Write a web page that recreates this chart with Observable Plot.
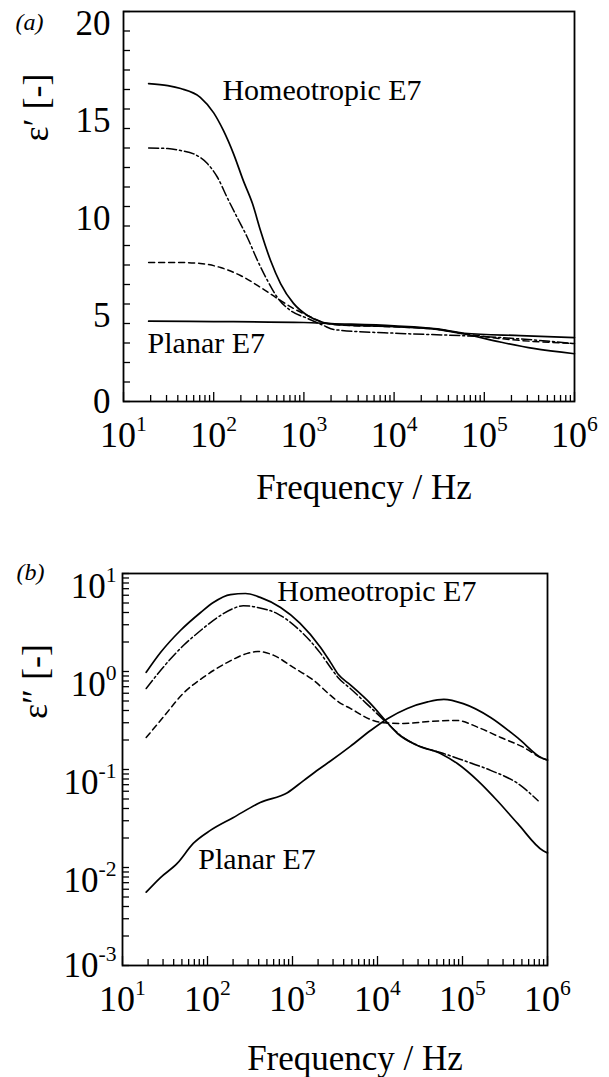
<!DOCTYPE html>
<html><head><meta charset="utf-8">
<script src="https://cdn.jsdelivr.net/npm/d3@7"></script>
<script src="https://cdn.jsdelivr.net/npm/@observablehq/plot@0.6"></script>
<style>
html,body{margin:0;padding:0;background:#fff;}
#chart{width:609px;}
#chart svg{display:block;}
</style></head><body><div id="chart"></div>
<script>
// ---------- data: (frequency Hz, value) ----------
// Panel (a): real permittivity eps'
const aHomeotropic = [[19,16.3],[31,16.2],[43,16.05],[71,15.6],[100,14.8],[128,13.9],[166,12.7],[214,11.3],[269,10.15],[330,8.77],[427,7.23],[551,6.05],[767,5.03],[1096,4.41],[1648,4.05],[2547,3.93],[10000,3.84],[30000,3.7],[60000,3.46],[150000,3.05],[350000,2.72],[1000000,2.45]];
const aDashDot = [[19,13.0],[31,12.97],[43,12.87],[60,12.7],[85,12.2],[110,11.5],[141,10.46],[182,9.44],[237,8.4],[306,7.23],[395,6.2],[509,5.33],[708,4.67],[1096,4.26],[1648,3.9],[2140,3.69],[11700,3.49],[55000,3.38],[150000,3.28],[1000000,2.97]];
const aDashed = [[19,7.13],[43,7.13],[71,7.08],[119,6.87],[198,6.46],[331,5.85],[509,5.28],[767,4.77],[1096,4.41],[1648,4.05],[2547,3.92],[10000,3.83],[30000,3.7],[60000,3.48],[150000,3.23],[1000000,2.97]];
const aPlanar = [[19,4.12],[100,4.1],[1000,4.05],[2000,4.0],[10000,3.88],[30000,3.72],[60000,3.5],[250000,3.38],[1000000,3.28]];

// Panel (b): dielectric loss eps''
const bHomeotropic = [[19,0.98],[28,1.56],[48,2.62],[83,4.0],[117,5.06],[186,6.1],[280,6.25],[417,5.7],[724,4.5],[1230,3.1],[2140,1.76],[2800,1.24],[3470,0.93],[4790,0.73],[8280,0.47],[12400,0.316],[17200,0.233],[29500,0.176],[55000,0.146],[87000,0.115],[151000,0.077],[257000,0.048],[447000,0.028],[890000,0.0148],[1000000,0.0141]];
const bDashDot = [[19,0.67],[30,1.1],[52,1.84],[83,2.62],[131,3.56],[202,4.4],[263,4.7],[389,4.5],[661,3.9],[1150,2.75],[2140,1.53],[2800,1.1],[3470,0.86],[4790,0.67],[8280,0.43],[13100,0.295],[20400,0.21],[34700,0.167],[55000,0.149],[102000,0.124],[214000,0.098],[447000,0.072],[776000,0.048]];
const bDashed = [[19,0.212],[30,0.34],[52,0.6],[89,0.87],[172,1.24],[295,1.53],[389,1.6],[603,1.46],[1020,1.1],[1780,0.81],[2800,0.57],[3470,0.49],[4790,0.42],[8900,0.316],[11700,0.3],[20400,0.295],[41700,0.31],[87000,0.316],[151000,0.27],[282000,0.212],[525000,0.168],[890000,0.129],[1000000,0.125]];
const bPlanar = [[19,0.0056],[28,0.0079],[44,0.011],[68,0.0176],[108,0.0239],[202,0.0324],[417,0.046],[871,0.058],[1350,0.077],[2020,0.1],[2800,0.122],[4790,0.172],[8280,0.25],[13100,0.33],[22400,0.42],[38900,0.49],[60300,0.52],[102000,0.47],[214000,0.34],[447000,0.21],[890000,0.129],[1000000,0.125]];

// ---------- ticks ----------
const xDecades = [1e1,1e2,1e3,1e4,1e5,1e6];
const xMinor = [];
for (const d of [1e1,1e2,1e3,1e4,1e5]) for (const m of [2,3,4,5,6,7,8,9]) xMinor.push(m*d);
const aYLabels = [0,5,10,15,20];
const aYTicks = d3.range(0,21,1);
const bYDecades = [1e-3,1e-2,1e-1,1e0,1e1];
const bYTicks = [...bYDecades];
for (const d of [1e-3,1e-2,1e-1,1e0]) for (const m of [2,3,4,5,6,7,8,9]) bYTicks.push(m*d);

const FONT = "'Liberation Serif','Times New Roman',Times,serif";
const pow = d => "10^" + Math.round(Math.log10(d));
const X = d => d[0], Y = d => d[1];
const SOLID = {stroke:"black", strokeWidth:1.7};
const DASH = {stroke:"black", strokeWidth:1.5, strokeDasharray:"6,4"};
const DASHDOT = {stroke:"black", strokeWidth:1.5, strokeDasharray:"10,3,2,3"};

function xAxes() {
  return [
    Plot.axisX(xMinor, {anchor:"bottom", tickSize:-6, fill:"none", strokeWidth:1.3, label:null}),
    Plot.axisX(xDecades, {anchor:"bottom", tickSize:-9, fill:"none", strokeWidth:1.3, label:null}),
    Plot.axisX(xDecades, {anchor:"bottom", tickSize:0, tickPadding:20, fontSize:36, tickFormat:pow, label:null})
  ];
}

function superscripts(svg, fs) {
  svg.querySelectorAll("text").forEach(t => {
    const m = /^10\^(-?\d+)$/.exec(t.textContent);
    if (!m) return;
    t.textContent = "10";
    const s = document.createElementNS("http://www.w3.org/2000/svg", "tspan");
    s.setAttribute("font-size", (0.6*fs) + "px");
    s.setAttribute("dy", (-0.45*fs));
    s.textContent = m[1];
    t.appendChild(s);
  });
}

const plotA = Plot.plot({
  width: 609, height: 510,
  marginLeft: 123, marginRight: 35, marginTop: 11, marginBottom: 109,
  style: {fontFamily: FONT, background: "white", color: "black"},
  x: {type: "log", domain: [10, 1e6]},
  y: {type: "linear", domain: [0, 20]},
  marks: [
    Plot.line(aHomeotropic, {x:X, y:Y, ...SOLID, curve:"monotone-x"}),
    Plot.line(aDashDot, {x:X, y:Y, ...DASHDOT, curve:"monotone-x"}),
    Plot.line(aDashed, {x:X, y:Y, ...DASH, curve:"monotone-x"}),
    Plot.line(aPlanar, {x:X, y:Y, ...SOLID, curve:"monotone-x"}),
    Plot.frame({stroke:"black", strokeWidth:1.8}),
    ...xAxes(),
    Plot.axisY(aYTicks, {anchor:"left", tickSize:-7, fill:"none", strokeWidth:1.3, label:null}),
    Plot.axisY([0], {anchor:"left", tickSize:0, tickPadding:13, fontSize:35, label:null}),
    Plot.axisY(aYLabels.slice(1), {anchor:"left", tickSize:0, tickPadding:13, dy:12, fontSize:35, label:null}),
    Plot.text(["Homeotropic E7"], {x:125, y:15.95, textAnchor:"start", lineAnchor:"middle", fontSize:30}),
    Plot.text(["Planar E7"], {x:18.5, y:3.0, textAnchor:"start", lineAnchor:"middle", fontSize:30}),
    Plot.text(["Frequency / Hz"], {frameAnchor:"bottom", dx:15, dy:86, textAnchor:"middle", lineAnchor:"middle", fontSize:35}),
    Plot.text(["ε′ [-]"], {frameAnchor:"top-left", dx:-87, dy:96, rotate:-90, textAnchor:"middle", lineAnchor:"middle", fontSize:36}),
    Plot.text(["(a)"], {frameAnchor:"top-left", dx:-108, dy:11, textAnchor:"start", lineAnchor:"middle", fontSize:24, fontStyle:"italic"})
  ]
});

const plotB = Plot.plot({
  width: 609, height: 567,
  marginLeft: 122, marginRight: 62, marginTop: 63, marginBottom: 112,
  style: {fontFamily: FONT, background: "white", color: "black"},
  x: {type: "log", domain: [10, 1e6]},
  y: {type: "log", domain: [1e-3, 10]},
  marks: [
    Plot.line(bHomeotropic, {x:X, y:Y, ...SOLID, curve:"monotone-x"}),
    Plot.line(bDashDot, {x:X, y:Y, ...DASHDOT, curve:"monotone-x"}),
    Plot.line(bDashed, {x:X, y:Y, ...DASH, curve:"monotone-x"}),
    Plot.line(bPlanar, {x:X, y:Y, ...SOLID, curve:"monotone-x"}),
    Plot.frame({stroke:"black", strokeWidth:1.8}),
    ...xAxes(),
    Plot.axisY(bYTicks, {anchor:"left", tickSize:-7, fill:"none", strokeWidth:1.3, label:null}),
    Plot.axisY([1e-3], {anchor:"left", tickSize:0, tickPadding:6, fontSize:35, tickFormat:pow, label:null}),
    Plot.axisY(bYDecades.slice(1), {anchor:"left", tickSize:0, tickPadding:6, dy:13, fontSize:35, tickFormat:pow, label:null}),
    Plot.text(["Homeotropic E7"], {x:662, y:6.55, textAnchor:"start", lineAnchor:"middle", fontSize:30}),
    Plot.text(["Planar E7"], {x:78, y:0.0121, textAnchor:"start", lineAnchor:"middle", fontSize:30}),
    Plot.text(["Frequency / Hz"], {frameAnchor:"bottom", dx:20, dy:93, textAnchor:"middle", lineAnchor:"middle", fontSize:35}),
    Plot.text(["ε″ [-]"], {frameAnchor:"top-left", dx:-87, dy:108, rotate:-90, textAnchor:"middle", lineAnchor:"middle", fontSize:36}),
    Plot.text(["(b)"], {frameAnchor:"top-left", dx:-106, dy:-1, textAnchor:"start", lineAnchor:"middle", fontSize:24, fontStyle:"italic"})
  ]
});

superscripts(plotA, 36);
superscripts(plotB, 36);
document.getElementById("chart").append(plotA, plotB);
</script>
</body></html>
